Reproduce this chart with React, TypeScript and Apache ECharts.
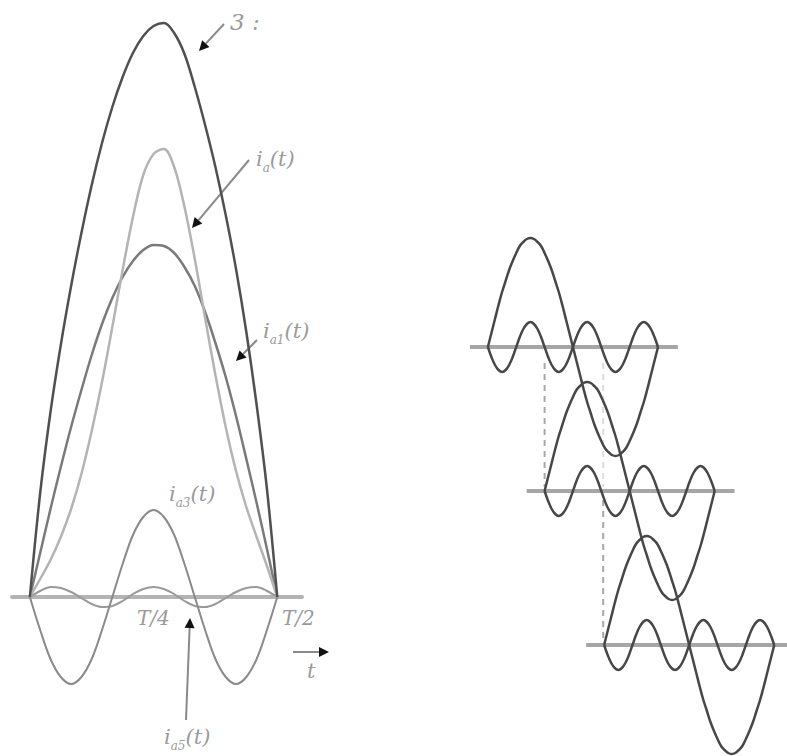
import React, { useEffect, useRef } from "react";
import * as echarts from "echarts";

// ---------- Left panel: harmonic decomposition over half a period (phase in degrees, 0..180 = 0..T/2)
const leftPhase = [0, 7.5, 15, 22.5, 30, 37.5, 45, 52.5, 60, 67.5, 75, 82.5, 90, 97.5, 105, 112.5, 120, 127.5, 135, 142.5, 150, 157.5, 165, 172.5, 180];
const bigCurve = [0, 104, 185, 252, 311, 364, 412, 454, 490, 520, 544, 561, 571, 574, 564, 543, 510, 472, 430, 382, 328, 265, 192, 108, 0];
const iA = [0, 18, 37, 60, 88, 123, 166, 215, 270, 327, 380, 422, 443, 448, 430, 390, 338, 279, 222, 170, 126, 90, 60, 31, 0];
const iA1 = [0, 44, 88, 130, 170, 207, 242, 273, 299, 320, 336, 347, 352, 351, 344, 330, 311, 285, 254, 220, 181, 138, 94, 48, 0];
const iA3 = [0, -33, -62, -80, -87, -80, -62, -33, 0, 33, 62, 80, 87, 80, 62, 33, 0, -33, -62, -80, -87, -80, -62, -33, 0];
const iA5 = [0, 6, 10, 9, 5, -1, -7, -10, -9, -4, 3, 8, 10, 8, 3, -4, -9, -10, -7, -1, 5, 9, 10, 6, 0];

// ---------- Right panel: three shifted groups (fundamental + 3rd harmonic), phase in degrees
const rightPhase = [0, 7.5, 15, 22.5, 30, 37.5, 45, 52.5, 60, 67.5, 75, 82.5, 90, 97.5, 105, 112.5, 120, 127.5, 135, 142.5, 150, 157.5, 165, 172.5, 180, 187.5, 195, 202.5, 210, 217.5, 225, 232.5, 240, 247.5, 255, 262.5, 270, 277.5, 285, 292.5, 300, 307.5, 315, 322.5, 330, 337.5, 345, 352.5, 360];
const bigWave = [0, 14, 28, 42, 55, 66, 77, 86, 94, 101, 105, 108, 109, 108, 105, 101, 94, 86, 77, 66, 55, 42, 28, 14, 0, -14, -28, -42, -55, -66, -77, -86, -94, -101, -105, -108, -109, -108, -105, -101, -94, -86, -77, -66, -55, -42, -28, -14, 0];
const smallWave = [0, -10, -18, -23, -25, -23, -18, -10, 0, 10, 18, 23, 25, 23, 18, 10, 0, -10, -18, -23, -25, -23, -18, -10, 0, 10, 18, 23, 25, 23, 18, 10, 0, -10, -18, -23, -25, -23, -18, -10, 0, 10, 18, 23, 25, 23, 18, 10, 0];
const groupStart = [0, 120, 246];
const groupLevel = [0, -144, -298];
const axisSpan = [-38, 402];
const dashedLinks = [
  { x: 120, from: -16, to: -140, faint: false },
  { x: 244, from: -16, to: -140, faint: true },
  { x: 244, from: -153, to: -293, faint: false },
];

const serif = "'DejaVu Serif', 'Liberation Serif', serif";
const labelColor = "#9a9a9a";

function arrow(x1: number, y1: number, x2: number, y2: number) {
  const dx = x2 - x1;
  const dy = y2 - y1;
  const L = Math.hypot(dx, dy);
  const ux = dx / L;
  const uy = dy / L;
  const h = 10;
  const w = 5;
  const bx = x2 - ux * h;
  const by = y2 - uy * h;
  return [
    { type: "line", shape: { x1, y1, x2: bx, y2: by }, style: { stroke: "#8a8a8a", lineWidth: 2 } },
    {
      type: "polygon",
      shape: { points: [[x2, y2], [bx - uy * w, by + ux * w], [bx + uy * w, by - ux * w]] },
      style: { fill: "#111" },
    },
  ];
}

function subLabel(x: number, y: number, sub: string) {
  return {
    type: "text",
    x,
    y,
    style: {
      text: "{m|i}{s|" + sub + "}{m|(t)}",
      fill: labelColor,
      rich: {
        m: { fontSize: 21, fontStyle: "italic", fontFamily: serif, fill: labelColor, lineHeight: 30, verticalAlign: "middle" },
        s: { fontSize: 12, fontStyle: "italic", fontFamily: serif, fill: labelColor, lineHeight: 30, verticalAlign: "bottom" },
      },
    },
  };
}

function plainLabel(x: number, y: number, text: string, size = 18) {
  return {
    type: "text",
    x,
    y,
    style: { text, fill: labelColor, fontSize: size, fontStyle: "italic", fontFamily: serif },
  };
}

export default function App() {
  const ref = useRef<HTMLDivElement>(null);
  useEffect(() => {
    if (!ref.current) return;
    const chart = echarts.init(ref.current, undefined, { renderer: "svg" });

    const leftLine = (name: string, data: number[], color: string, width: number) => ({
      type: "line",
      name,
      xAxisIndex: 0,
      yAxisIndex: 0,
      data: leftPhase.map((p, i) => [p, data[i]]),
      smooth: 0.35,
      showSymbol: false,
      lineStyle: { color, width },
      z: 3,
    });

    const rightSeries: any[] = [];
    groupStart.forEach((s, g) => {
      const lvl = groupLevel[g];
      rightSeries.push({
        type: "line",
        name: "axis" + (g + 1),
        xAxisIndex: 1,
        yAxisIndex: 1,
        data: [[s + axisSpan[0], lvl], [s + axisSpan[1], lvl]],
        showSymbol: false,
        lineStyle: { color: "#a6a6a6", width: 4 },
        z: 2,
      });
      rightSeries.push({
        type: "line",
        name: "h3_" + (g + 1),
        xAxisIndex: 1,
        yAxisIndex: 1,
        data: rightPhase.map((p, i) => [s + p, lvl + smallWave[i]]),
        smooth: 0.4,
        showSymbol: false,
        lineStyle: { color: "#474747", width: 2.5 },
        z: 3,
      });
      rightSeries.push({
        type: "line",
        name: "h1_" + (g + 1),
        xAxisIndex: 1,
        yAxisIndex: 1,
        data: rightPhase.map((p, i) => [s + p, lvl + bigWave[i]]),
        smooth: 0.4,
        showSymbol: false,
        lineStyle: { color: "#474747", width: 2.5 },
        z: 3,
      });
    });
    dashedLinks.forEach((d, i) => {
      rightSeries.push({
        type: "line",
        name: "link" + i,
        xAxisIndex: 1,
        yAxisIndex: 1,
        data: [[d.x, d.from], [d.x, d.to]],
        showSymbol: false,
        lineStyle: { color: d.faint ? "#dddddd" : "#a8a8a8", width: 2, type: [6, 5] },
        z: 2,
      });
    });

    chart.setOption({
      animation: false,
      backgroundColor: "#ffffff",
      grid: [
        { left: 12, width: 290, top: 0, height: 756 },
        { left: 400, width: 387, top: 0, height: 756 },
      ],
      xAxis: [
        {
          type: "value",
          gridIndex: 0,
          min: -13,
          max: 198,
          axisLine: { show: true, onZero: true, lineStyle: { color: "#b4b4b4", width: 4 } },
          axisTick: { show: false },
          axisLabel: { show: false },
          splitLine: { show: false },
        },
        { type: "value", gridIndex: 1, min: -186, max: 633, show: false, splitLine: { show: false } },
      ],
      yAxis: [
        { type: "value", gridIndex: 0, min: -159, max: 597, show: false, splitLine: { show: false } },
        { type: "value", gridIndex: 1, min: -409, max: 347, show: false, splitLine: { show: false } },
      ],
      series: [
        leftLine("i_a5(t)", iA5, "#9a9a9a", 2),
        leftLine("i_a3(t)", iA3, "#8a8a8a", 2),
        leftLine("i_a1(t)", iA1, "#7a7a7a", 2.5),
        leftLine("i_a(t)", iA, "#b4b4b4", 2.5),
        leftLine("3 :", bigCurve, "#505050", 2.5),
        ...rightSeries,
      ],
      graphic: [
        plainLabel(230, 10, "3 :", 23),
        ...arrow(224, 24, 199, 51),
        subLabel(256, 144, "a"),
        ...arrow(249, 160, 192, 228),
        subLabel(263, 316, "a1"),
        ...arrow(257, 340, 236, 361),
        subLabel(169, 479, "a3"),
        plainLabel(137, 608, "T/4", 20),
        plainLabel(282, 608, "T/2", 20),
        ...arrow(186, 720, 190, 618),
        subLabel(164, 722, "a5"),
        ...arrow(293, 652, 329, 652),
        plainLabel(307, 660, "t", 21),
      ],
    });
    return () => chart.dispose();
  }, []);
  return <div ref={ref} style={{ position: "fixed", left: 0, top: 0, width: 787, height: 756 }} />;
}
